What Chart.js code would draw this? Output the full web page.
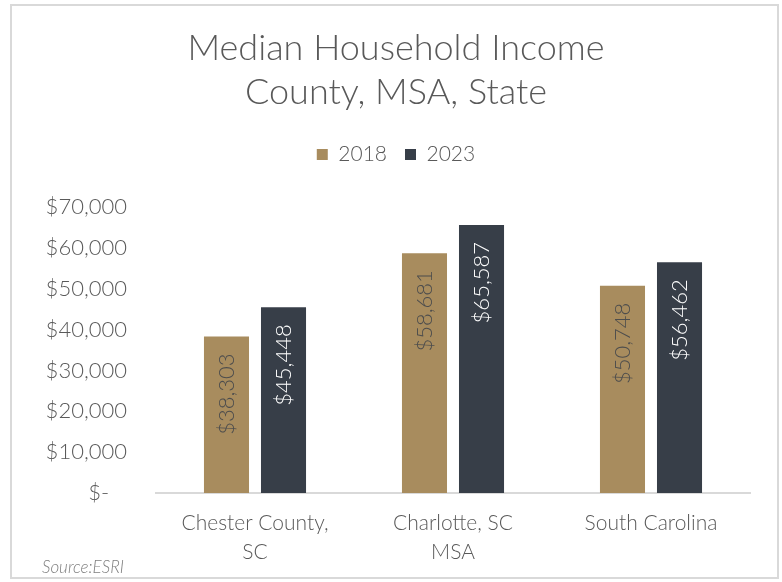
<!DOCTYPE html>
<html>
<head>
<meta charset="utf-8">
<script src="https://cdn.jsdelivr.net/npm/chart.js@4.4.1/dist/chart.umd.min.js"></script>
<style>
  html, body { margin: 0; padding: 0; background: #fff; }
  #wrap { width: 782px; height: 582px; }
</style>
</head>
<body>
<div id="wrap"><canvas id="chart" width="782" height="582"></canvas></div>
<script>
const categories = [['Chester County,', 'SC'], ['Charlotte, SC', 'MSA'], 'South Carolina'];
const income2018 = [38303, 58681, 50748];
const income2023 = [45448, 65587, 56462];
const yTicks = [0, 10000, 20000, 30000, 40000, 50000, 60000, 70000];
const sourceNote = 'Source:ESRI';

const FONT = 'Lato, "Open Sans", sans-serif';
const GREY = '#595959';

const money = v => v === 0 ? '$-   ' : '$' + v.toLocaleString('en-US');

// push the plot down a bit below the legend
const legendGap = {
    id: 'legendGap',
    beforeInit(chart) {
        const fit = chart.legend.fit;
        chart.legend.fit = function () {
            fit.bind(chart.legend)();
            this.height += 32;
        };
    }
};

// outer frame and source note, like the exported picture
const frame = {
    id: 'frame',
    beforeDraw(chart) {
        const ctx = chart.ctx;
        ctx.save();
        ctx.strokeStyle = '#d9d9d9';
        ctx.lineWidth = 2;
        ctx.strokeRect(11, 5, 767, 573);
        ctx.font = 'italic 300 17px ' + FONT;
        ctx.fillStyle = '#7f7f7f';
        ctx.textAlign = 'left';
        ctx.textBaseline = 'middle';
        ctx.fillText(sourceNote, 42, 568);
        ctx.restore();
    }
};

// vertical value labels inside the top of each bar
const barLabels = {
    id: 'barLabels',
    afterDatasetsDraw(chart) {
        const ctx = chart.ctx;
        chart.data.datasets.forEach((ds, i) => {
            chart.getDatasetMeta(i).data.forEach((bar, j) => {
                ctx.save();
                ctx.translate(bar.x, bar.y + 17);
                ctx.rotate(-Math.PI / 2);
                ctx.font = '300 22px ' + FONT;
                ctx.fillStyle = ds.labelColor;
                ctx.textAlign = 'right';
                ctx.textBaseline = 'middle';
                ctx.fillText(money(ds.data[j]), 0, 0);
                ctx.restore();
            });
        });
    }
};

new Chart(document.getElementById('chart'), {
    type: 'bar',
    data: {
        labels: categories,
        datasets: [
            { label: '2018', data: income2018, backgroundColor: '#a88c5e', labelColor: '#4d4d4d',
              borderWidth: 0, categoryPercentage: 0.576, barPercentage: 0.79 },
            { label: '2023', data: income2023, backgroundColor: '#373e48', labelColor: '#ffffff',
              borderWidth: 0, categoryPercentage: 0.576, barPercentage: 0.79 }
        ]
    },
    options: {
        responsive: false,
        animation: false,
        layout: { padding: { left: 42, right: 32, top: 0, bottom: 14 } },
        plugins: {
            title: {
                display: true,
                text: ['Median Household Income', 'County, MSA, State'],
                color: GREY,
                font: { family: FONT, size: 36, weight: '300', lineHeight: 1.222 },
                padding: { top: 26, bottom: 12 }
            },
            legend: {
                display: true,
                labels: {
                    color: GREY,
                    font: { family: FONT, size: 21, weight: '300' },
                    boxWidth: 11, boxHeight: 11, padding: 18
                }
            },
            tooltip: { enabled: false }
        },
        scales: {
            x: {
                grid: { display: false, drawTicks: false },
                border: { color: '#d9d9d9', width: 2 },
                ticks: { color: GREY, font: { family: FONT, size: 21, weight: '300', lineHeight: 1.38 }, padding: 16, maxRotation: 0 },
                afterFit(scale) { scale.height = 75; }
            },
            y: {
                min: 0, max: 70000,
                afterBuildTicks(scale) { scale.ticks = yTicks.map(v => ({ value: v })); },
                grid: { display: false, drawTicks: false },
                border: { display: false },
                ticks: { color: GREY, font: { family: FONT, size: 22, weight: '300' }, padding: 29,
                         callback: v => money(v) },
                afterFit(scale) { scale.width = 114; }
            }
        }
    },
    plugins: [legendGap, frame, barLabels]
});
</script>
</body>
</html>
